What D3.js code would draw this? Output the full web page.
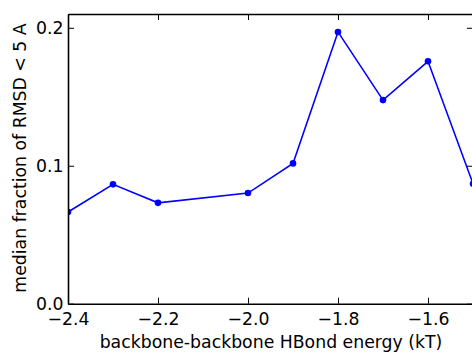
<!DOCTYPE html>
<html><head><meta charset="utf-8">
<script src="https://cdn.jsdelivr.net/npm/d3@7"></script>
<style>body{margin:0;background:#fff}svg{display:block}text{font-family:"DejaVu Sans",sans-serif;fill:#000}</style>
</head><body>
<script>
const energies = [-2.4, -2.3, -2.2, -2.0, -1.9, -1.8, -1.7, -1.6, -1.5];
const fractions = [0.0665, 0.0865, 0.0731, 0.0802, 0.1017, 0.197, 0.1476, 0.1757, 0.087];
const xTicks = [-2.4, -2.2, -2.0, -1.8, -1.6];
const yTicks = [0.0, 0.1, 0.2];
const xLabel = "backbone-backbone HBond energy (kT)";
const yLabel = "median fraction of RMSD < 5 A";

const W = 472, H = 352, FS = 17.3;
const m = {left: 68, top: 14, right: 473, bottom: 303.7};
const svg = d3.select("body").append("svg").attr("width", W).attr("height", H);
const x = d3.scaleLinear().domain([-2.4, -1.5]).range([m.left, m.right]);
const y = d3.scaleLinear().domain([0, 0.21]).range([m.bottom, m.top]);
const fmtX = d => d3.format(".1f")(d).replace("-", "\u2212");
const fmtY = d => d3.format(".1f")(d);

svg.append("clipPath").attr("id","c").append("rect")
  .attr("x", m.left).attr("y", m.top).attr("width", m.right - m.left).attr("height", m.bottom - m.top);

const pts = energies.map((e,i)=>[e,fractions[i]]);
const g = svg.append("g").attr("clip-path","url(#c)");
g.append("path").datum(pts)
  .attr("fill","none").attr("stroke","#0000ff").attr("stroke-width",1.6)
  .attr("d", d3.line().x(d=>x(d[0])).y(d=>y(d[1])));
g.selectAll("circle").data(pts).join("circle")
  .attr("cx", d=>x(d[0])).attr("cy", d=>y(d[1])).attr("r",3.3).attr("fill","#0000ff");

const tl = 6;
const axB = svg.append("g").attr("transform",`translate(0,${m.bottom})`)
  .call(d3.axisBottom(x).tickValues(xTicks).tickFormat(fmtX).tickSizeInner(-tl).tickSizeOuter(0).tickPadding(9));
const axT = svg.append("g").attr("transform",`translate(0,${m.top})`)
  .call(d3.axisTop(x).tickValues(xTicks).tickFormat("").tickSizeInner(-tl).tickSizeOuter(0));
const axL = svg.append("g").attr("transform",`translate(${m.left},0)`)
  .call(d3.axisLeft(y).tickValues(yTicks).tickFormat(fmtY).tickSizeInner(-tl).tickSizeOuter(0).tickPadding(4.5));
const axR = svg.append("g").attr("transform",`translate(${m.right},0)`)
  .call(d3.axisRight(y).tickValues(yTicks).tickFormat("").tickSizeInner(-tl).tickSizeOuter(0));
[axB, axT, axL, axR].forEach(a => {
  a.select(".domain").attr("stroke","#000").attr("stroke-width",1.6);
  a.selectAll(".tick line").attr("stroke","#000").attr("stroke-width",1);
  a.selectAll("text").attr("font-size",FS).attr("font-family","DejaVu Sans").attr("fill","#000");
});

svg.append("text").attr("x", 271).attr("y", 348)
  .attr("text-anchor","middle").attr("font-size",FS).text(xLabel);
svg.append("text").attr("transform",`translate(25.5,158) rotate(-90)`)
  .attr("text-anchor","middle").attr("font-size",FS).text(yLabel);
</script>
</body></html>
